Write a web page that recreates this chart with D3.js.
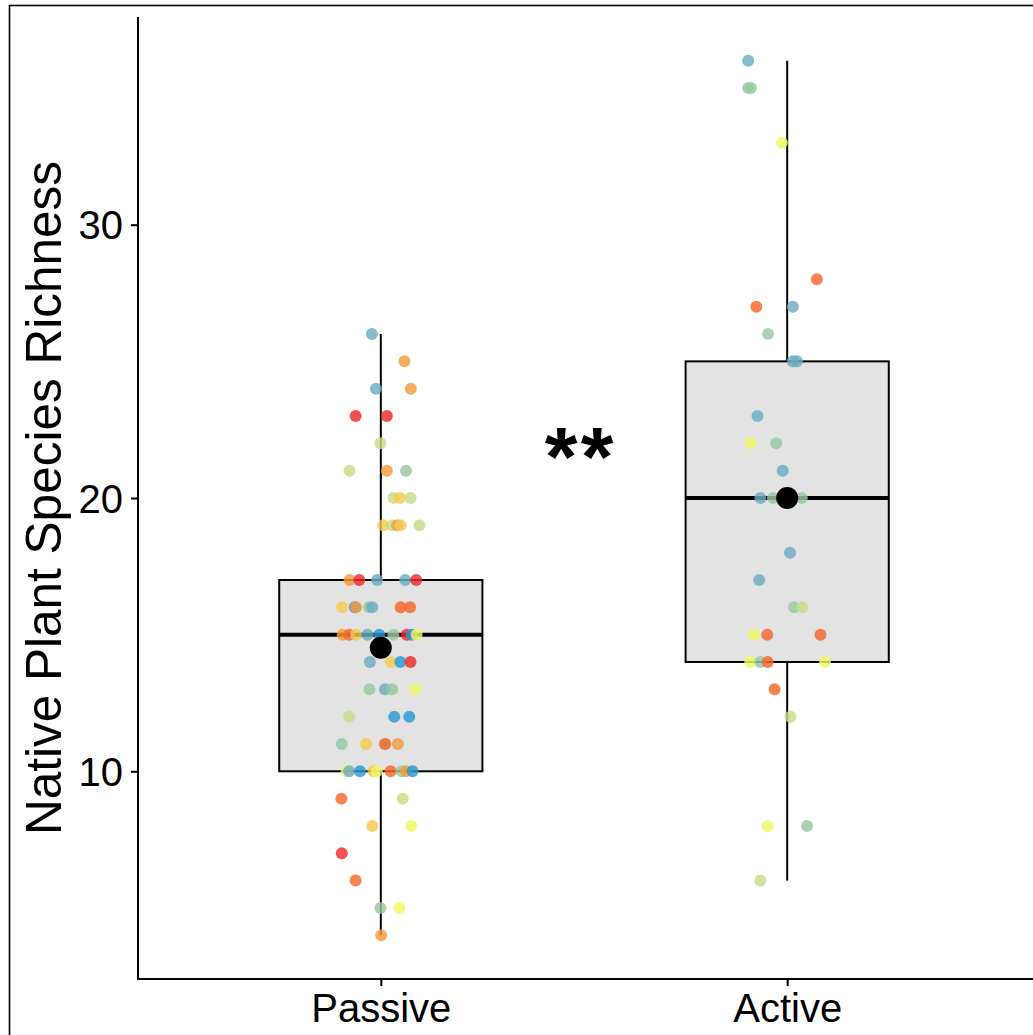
<!DOCTYPE html>
<html><head><meta charset="utf-8">
<script src="https://cdn.jsdelivr.net/npm/d3@7"></script>
<style>html,body{margin:0;padding:0;background:#fff;}svg{display:block;}</style>
</head><body>
<svg id="c" width="1033" height="1035"></svg>
<script>
const groups = ["Passive", "Active"];
const q1 = [10, 14];
const median = [15, 20];
const q3 = [17, 25];
const whiskerLow = [4, 6];
const whiskerHigh = [26, 36];
const means = [14.52, 20];
const yTicks = [10, 20, 30];

const passiveValues = [26,25,24,24,23,23,22,21,21,21,20,20,20,19,19,19,19,19,17,17,17,17,17,16,16,16,16,16,16,16,15,15,15,15,15,15,15,15,15,14,14,14,14,13,13,13,13,12,12,12,11,11,11,11,11,10,10,10,10,10,10,10,10,10,9,9,8,8,7,6,5,5,4];
const passiveJitter = [-0.022,0.058,-0.012,0.074,-0.062,0.015,-0.001,-0.077,0.015,0.062,0.031,0.047,0.073,0.006,0.027,0.040,0.049,0.095,-0.077,-0.053,-0.009,0.060,0.087,-0.095,-0.064,-0.061,-0.029,-0.021,0.049,0.072,-0.094,-0.078,-0.061,-0.033,-0.004,0.031,0.064,0.076,0.088,-0.027,0.024,0.048,0.073,-0.028,0.010,0.028,0.085,-0.078,0.033,0.070,-0.096,-0.036,0.009,0.011,0.042,-0.084,-0.078,-0.051,-0.018,-0.010,0.024,0.051,0.062,0.078,-0.097,0.054,-0.021,0.075,-0.096,-0.062,-0.001,0.046,0.001];
const passiveColor = ["T","A","T","A","R","R","L","L","A","S","L","Y","L","Y","L","A","Y","L","A","R","T","T","R","Y","U","A","S","T","O","O","A","O","Y","T","U","S","R","U","B","T","Y","U","R","S","T","S","B","L","U","U","S","Y","S","O","A","B","T","U","Y","B","O","S","A","U","O","L","Y","B","R","O","S","B","A"];

const activeValues = [36,35,35,33,28,27,27,26,25,25,23,22,22,21,20,20,20,18,17,16,16,15,15,15,14,14,14,14,13,12,8,8,6];
const activeJitter = [-0.096,-0.096,-0.089,-0.013,0.073,-0.076,0.014,-0.047,0.014,0.024,-0.073,-0.090,-0.027,-0.011,-0.066,-0.035,0.036,0.007,-0.069,0.017,0.037,-0.082,-0.049,0.082,-0.091,-0.066,-0.048,0.093,-0.031,0.008,-0.048,0.049,-0.066];
const activeColor = ["T","S","S","B","O","O","T","S","T","T","T","B","S","T","T","S","S","T","T","S","L","B","O","O","B","S","O","B","O","L","B","S","L"];

const palette = {R:"#ee2b2b", O:"#f8672a", A:"#f59b3c", Y:"#f6c950", B:"#eef862", L:"#c6dd88", S:"#97c8a0", T:"#6aacbf", U:"#2a98d2"};

const svg = d3.select("#c");
const font = "'Liberation Sans', Arial, Helvetica, sans-serif";

// outer frame
svg.append("rect").attr("x", 9.5).attr("y", 5.5).attr("width", 1100).attr("height", 1100)
  .attr("fill", "none").attr("stroke", "#000").attr("stroke-width", 1.6);

const y = d3.scaleLinear().domain([2.4, 37.6]).range([979, 17]);
const x = d3.scalePoint().domain(groups).range([137, 1031]).padding(0.6);
const step = x.step();
const boxW = 0.5 * step;

// boxes
const stats = groups.map((g, i) => ({g, q1: q1[i], med: median[i], q3: q3[i], lo: whiskerLow[i], hi: whiskerHigh[i], mean: means[i]}));
const bx = svg.append("g");
stats.forEach(s => {
  const cx = x(s.g);
  bx.append("line").attr("x1", cx).attr("x2", cx).attr("y1", y(s.hi)).attr("y2", y(s.q3)).attr("stroke", "#000").attr("stroke-width", 2);
  bx.append("line").attr("x1", cx).attr("x2", cx).attr("y1", y(s.q1)).attr("y2", y(s.lo)).attr("stroke", "#000").attr("stroke-width", 2);
  bx.append("rect").attr("x", cx - boxW / 2).attr("y", y(s.q3)).attr("width", boxW).attr("height", y(s.q1) - y(s.q3))
    .attr("fill", "#e3e3e3").attr("stroke", "#000").attr("stroke-width", 2);
  bx.append("line").attr("x1", cx - boxW / 2).attr("x2", cx + boxW / 2).attr("y1", y(s.med)).attr("y2", y(s.med))
    .attr("stroke", "#000").attr("stroke-width", 4);
});

// points
const pts = [];
passiveValues.forEach((v, i) => pts.push({g: "Passive", v, j: passiveJitter[i], c: passiveColor[i]}));
activeValues.forEach((v, i) => pts.push({g: "Active", v, j: activeJitter[i], c: activeColor[i]}));
svg.append("g").selectAll("circle").data(pts).join("circle")
  .attr("cx", d => x(d.g) + d.j * step)
  .attr("cy", d => y(d.v))
  .attr("r", 6)
  .attr("fill", d => palette[d.c])
  .attr("fill-opacity", 0.82);

// means
svg.append("g").selectAll("circle").data(stats).join("circle")
  .attr("cx", d => x(d.g)).attr("cy", d => y(d.mean)).attr("r", 11).attr("fill", "#000");

// axes
svg.append("line").attr("x1", 138).attr("x2", 138).attr("y1", 17).attr("y2", 979).attr("stroke", "#000").attr("stroke-width", 2);
svg.append("line").attr("x1", 137).attr("x2", 1033).attr("y1", 979).attr("y2", 979).attr("stroke", "#000").attr("stroke-width", 2);

const yAxis = svg.append("g").attr("transform", "translate(138,0)")
  .call(d3.axisLeft(y).tickValues(yTicks).tickSize(7).tickPadding(8));
yAxis.select(".domain").remove();
yAxis.selectAll("line").attr("stroke", "#000").attr("stroke-width", 2);
yAxis.selectAll("text").attr("font-family", font).attr("font-size", 40).attr("fill", "#000").attr("dy", "0.35em");

const xAxis = svg.append("g").attr("transform", "translate(0,979)")
  .call(d3.axisBottom(x).tickSize(7).tickPadding(8));
xAxis.select(".domain").remove();
xAxis.selectAll("line").attr("stroke", "#000").attr("stroke-width", 2);
xAxis.selectAll("text").attr("font-family", font).attr("font-size", 40).attr("fill", "#000");

// y title
svg.append("text").attr("transform", "translate(61,498) rotate(-90)")
  .attr("text-anchor", "middle").attr("font-family", font).attr("font-size", 49.5).attr("fill", "#000")
  .text("Native Plant Species Richness");

// significance
const sig = svg.append("text").attr("y", 486).attr("text-anchor", "middle")
  .attr("font-family", font).attr("font-size", 84).attr("font-weight", "bold").attr("fill", "#000");
sig.append("tspan").attr("x", 561).text("*");
sig.append("tspan").attr("x", 597).text("*");
</script>
</body></html>
